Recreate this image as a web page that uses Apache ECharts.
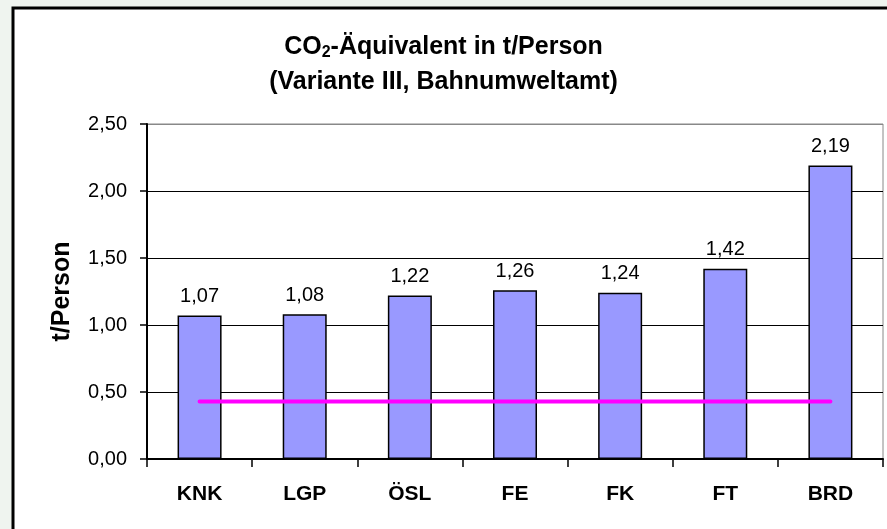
<!DOCTYPE html>
<html lang="de">
<head>
<meta charset="UTF-8">
<script src="https://cdn.jsdelivr.net/npm/echarts@6/dist/echarts.min.js"></script>
<title>CO2-Äquivalent in t/Person</title>
<style>
  html, body { margin: 0; padding: 0; background: #eff4ef; }
  #chart { width: 887px; height: 529px; }
</style>
</head>
<body>
<div id="chart"></div>
<script>
// data
const categories = ['KNK', 'LGP', 'ÖSL', 'FE', 'FK', 'FT', 'BRD'];
const co2Values = [1.07, 1.08, 1.22, 1.26, 1.24, 1.42, 2.19];
const refLine = [0.43, 0.43, 0.43, 0.43, 0.43, 0.43, 0.43];

const chart = echarts.init(document.getElementById('chart'));

// German decimal comma
const fmt = v => v.toFixed(2).replace('.', ',');

chart.setOption({
  backgroundColor: 'transparent',
  animation: false,
  textStyle: { fontFamily: 'Liberation Sans, Arial, sans-serif' },
  graphic: [
    {
      type: 'rect', z: -10,
      shape: { x: 13, y: 8, width: 900, height: 540 },
      style: { fill: '#ffffff', stroke: '#000', lineWidth: 3 }
    },
    {
      type: 'text', left: 'center', top: 33, x: 10,
      style: {
        text: '{b|CO}{s|2}{b|-Äquivalent in t/Person}\n{b|(Variante III, Bahnumweltamt)}',
        textAlign: 'center',
        rich: {
          b: { fontSize: 25, fontWeight: 'bold', fontFamily: 'Liberation Sans, Arial', lineHeight: 35, fill: '#000' },
          s: { fontSize: 16, fontWeight: 'bold', fontFamily: 'Liberation Sans, Arial', lineHeight: 35, padding: [12, 0, 0, 0], fill: '#000' }
        }
      }
    }
  ],
  grid: {
    left: 147, right: 4, top: 124, bottom: 70,
    show: true, borderColor: '#888', borderWidth: 1, backgroundColor: 'transparent'
  },
  xAxis: {
    type: 'category',
    data: categories,
    axisLine: { lineStyle: { color: '#000', width: 2 } },
    axisTick: { show: true, length: 8, lineStyle: { color: '#000', width: 1.5 } },
    axisLabel: { color: '#000', fontWeight: 'bold', fontSize: 21, margin: 25 }
  },
  yAxis: {
    type: 'value',
    min: 0, max: 2.5, interval: 0.5,
    name: 't/Person',
    nameLocation: 'middle',
    nameGap: 72,
    nameTextStyle: { color: '#000', fontWeight: 'bold', fontSize: 25 },
    axisLine: { show: true, lineStyle: { color: '#000', width: 2 } },
    axisTick: { show: true, length: 7, lineStyle: { color: '#000', width: 1.5 } },
    axisLabel: { color: '#000', fontSize: 20, margin: 20, formatter: fmt },
    splitLine: { lineStyle: { color: ['#000', '#000', '#000', '#000', '#000', '#888'], width: 1 } }
  },
  series: [
    {
      type: 'bar',
      data: co2Values,
      barWidth: 44,
      itemStyle: { color: '#9999ff', borderColor: '#000', borderWidth: 1.5 },
      label: { show: true, position: 'top', distance: 9, color: '#000', fontSize: 20, formatter: p => fmt(p.value) }
    },
    {
      type: 'line',
      data: refLine,
      symbol: 'none',
      z: 5,
      lineStyle: { color: '#ff00ff', width: 4, cap: 'round' }
    }
  ]
});
</script>
</body>
</html>
